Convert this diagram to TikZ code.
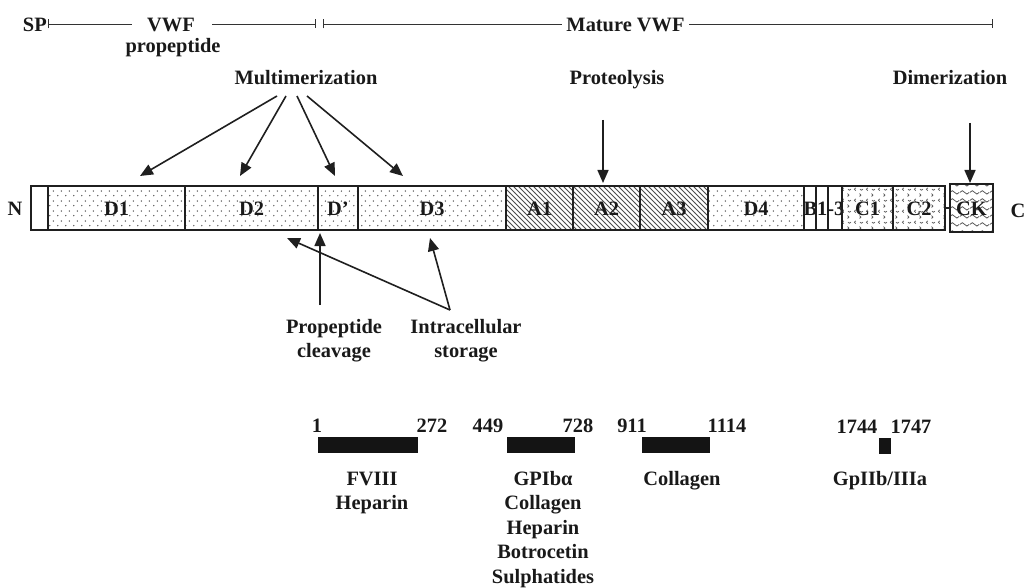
\documentclass[tikz,border=0pt]{standalone}
\usepackage{fontspec}
\setmainfont{Liberation Serif}
\usetikzlibrary{arrows.meta,patterns}

\pgfdeclarepatternformonly{sdots}{\pgfqpoint{0pt}{0pt}}{\pgfqpoint{8pt}{10pt}}{\pgfqpoint{8pt}{10pt}}{%
 \pgfpathcircle{\pgfqpoint{2pt}{2.5pt}}{0.8pt}\pgfpathcircle{\pgfqpoint{6pt}{7.5pt}}{0.8pt}\pgfusepath{fill}}
\pgfdeclarepatternformonly{hatch}{\pgfqpoint{-1pt}{-1pt}}{\pgfqpoint{6pt}{6pt}}{\pgfqpoint{5pt}{5pt}}{%
 \pgfsetlinewidth{0.9pt}\pgfpathmoveto{\pgfqpoint{0pt}{5pt}}\pgfpathlineto{\pgfqpoint{5.1pt}{-0.1pt}}\pgfusepath{stroke}}
\pgfdeclarepatternformonly{squig}{\pgfqpoint{0pt}{0pt}}{\pgfqpoint{12pt}{11pt}}{\pgfqpoint{12pt}{11pt}}{%
 \pgfsetlinewidth{0.8pt}%
 \pgfpathmoveto{\pgfqpoint{4pt}{4.5pt}}\pgfpathcurveto{\pgfqpoint{2pt}{4pt}}{\pgfqpoint{2pt}{2pt}}{\pgfqpoint{4pt}{1.5pt}}%
 \pgfpathmoveto{\pgfqpoint{8pt}{10pt}}\pgfpathcurveto{\pgfqpoint{10pt}{9.5pt}}{\pgfqpoint{10pt}{7.5pt}}{\pgfqpoint{8pt}{7pt}}%
 \pgfpathmoveto{\pgfqpoint{8.5pt}{3pt}}\pgfpathcurveto{\pgfqpoint{9.5pt}{1.5pt}}{\pgfqpoint{10.5pt}{1.5pt}}{\pgfqpoint{11.5pt}{3pt}}%
 \pgfusepath{stroke}}
\pgfdeclarepatternformonly{wave}{\pgfqpoint{0pt}{0pt}}{\pgfqpoint{10pt}{8pt}}{\pgfqpoint{10pt}{8pt}}{%
 \pgfsetlinewidth{0.8pt}%
 \pgfpathmoveto{\pgfqpoint{0pt}{4pt}}\pgfpathcurveto{\pgfqpoint{1.7pt}{6.5pt}}{\pgfqpoint{3.3pt}{6.5pt}}{\pgfqpoint{5pt}{4pt}}%
 \pgfpathcurveto{\pgfqpoint{6.7pt}{1.5pt}}{\pgfqpoint{8.3pt}{1.5pt}}{\pgfqpoint{10pt}{4pt}}\pgfusepath{stroke}}

\tikzset{
 every node/.style={font=\fontsize{20.4}{24.5}\selectfont\bfseries, text=black!90},
 lbl/.style={anchor=base, inner sep=0pt},
 dom/.style={draw=black!88, line width=1.5pt, inner sep=0pt, outer sep=0pt,
   minimum height=44pt, text height=14pt, text depth=0pt},
 dotted dom/.style={dom, pattern=sdots, pattern color=black!70},
 hatched dom/.style={dom, pattern=hatch, pattern color=black!70},
 squig dom/.style={dom, pattern=squig, pattern color=black!65},
 arr/.style={draw=black!88, line width=1.6pt, -{Triangle[length=13pt,width=11pt]}},
 tickline/.style={draw=black!80, line width=0.9pt},
 bindbar/.style={fill=black!92, inner sep=0pt, outer sep=0pt, minimum height=16pt},
}

\begin{document}
\begin{tikzpicture}[x=1pt,y=-1pt]
\useasboundingbox (0,0) rectangle (1027,588);

% header line
\node[lbl, anchor=base east] (sp) at (47,31.5) {SP};
\node[lbl] (vwf) at (171,31.5) {VWF};
\node[lbl] (prop) at (173,53) {propeptide};
\node[lbl] (mat) at (625.5,31.5) {Mature VWF};
\coordinate (h1) at (48,24); \coordinate (h2) at (132,24);
\coordinate (h3) at (212,24); \coordinate (h4) at (316,24);
\coordinate (h5) at (323,24); \coordinate (h6) at (562,24);
\coordinate (h7) at (689,24); \coordinate (h8) at (993,24);
\draw[tickline, {Bar[width=9pt]}-] (h1) -- (h2);
\draw[tickline, -{Bar[width=9pt]}] (h3) -- (h4);
\draw[tickline, {Bar[width=9pt]}-] (h5) -- (h6);
\draw[tickline, -{Bar[width=9pt]}] (h7) -- (h8);

% process labels
\node[lbl] (multi) at (306,85) {Multimerization};
\node[lbl] (proteo) at (617,85) {Proteolysis};
\node[lbl] (dimer) at (950,85) {Dimerization};

% domain bar
\node[dom, minimum width=17pt] (d0) at (39.5,208) {};
\node[dotted dom, minimum width=137pt] (d1) at (116.5,208) {D1};
\node[dotted dom, minimum width=133pt] (d2) at (251.5,208) {D2};
\node[dotted dom, minimum width=40pt] (dp) at (338,208) {D'};
\node[dotted dom, minimum width=148pt] (d3) at (432,208) {D3};
\node[hatched dom, minimum width=67pt] (a1) at (539.5,208) {A1};
\node[hatched dom, minimum width=67pt] (a2) at (606.5,208) {A2};
\node[hatched dom, minimum width=68pt] (a3) at (674,208) {A3};
\node[dotted dom, minimum width=96pt] (d4) at (756,208) {D4};
\node[dom, minimum width=12pt] (b1) at (810,208) {};
\node[dom, minimum width=12pt] (b2) at (822,208) {};
\node[dom, minimum width=14pt] (b3) at (835,208) {};
\node[lbl] (blab) at (824,215) {B1-3};
\node[squig dom, minimum width=51pt] (c1) at (867.5,208) {C1};
\node[squig dom, minimum width=52pt] (c2) at (919,208) {C2};
\node[dom, minimum width=43pt, minimum height=48pt, pattern=wave, pattern color=black!70] (ck) at (971.5,208) {CK};
\draw[line width=1.5pt, black!88] (c2.east) -- (ck.west);
\node[lbl] (nlab) at (15,215) {N};
\node[lbl] (clab) at (1018,217) {C};

% multimerization arrows
\coordinate (m1s) at (277,96); \coordinate (m1e) at (140,176);
\coordinate (m2s) at (286,96); \coordinate (m2e) at (240,176);
\coordinate (m3s) at (297,96); \coordinate (m3e) at (335,176);
\coordinate (m4s) at (307,96); \coordinate (m4e) at (403,176);
\draw[arr] (m1s) -- (m1e);
\draw[arr] (m2s) -- (m2e);
\draw[arr] (m3s) -- (m3e);
\draw[arr] (m4s) -- (m4e);
\coordinate (ps) at (603,120); \coordinate (pe) at (603,183);
\draw[arr] (ps) -- (pe);
\coordinate (ds) at (970,123); \coordinate (de) at (970,183);
\draw[arr] (ds) -- (de);

% lower arrows
\coordinate (pc0) at (320,305); \coordinate (pc1) at (320,233);
\draw[arr] (pc0) -- (pc1);
\coordinate (is0) at (450,310); \coordinate (is1) at (287,238); \coordinate (is2) at (430,238);
\draw[arr] (is0) -- (is1);
\draw[arr] (is0) -- (is2);
\node[lbl] (pca) at (334,333) {Propeptide};
\node[lbl] (pcb) at (334,357) {cleavage};
\node[lbl] (isa) at (466,333) {Intracellular};
\node[lbl] (isb) at (466,357) {storage};

% binding regions
\node[bindbar, minimum width=100pt] (bb1) at (368,445) {};
\node[bindbar, minimum width=68pt] (bb2) at (541,445) {};
\node[bindbar, minimum width=68pt] (bb3) at (676,445) {};
\node[bindbar, minimum width=12pt] (bb4) at (885,446) {};
\node[lbl] (n1) at (317,432) {1};
\node[lbl] (n272) at (432,432) {272};
\node[lbl] (n449) at (488,432) {449};
\node[lbl] (n728) at (578,432) {728};
\node[lbl] (n911) at (632,432) {911};
\node[lbl] (n1114) at (727,432) {1114};
\node[lbl] (n1744) at (857,433) {1744};
\node[lbl] (n1747) at (911,433) {1747};

\node[lbl] (l1a) at (372,485) {FVIII};
\node[lbl] (l1b) at (372,509.5) {Heparin};
\node[lbl] (l2a) at (543,485) {GPIbα};
\node[lbl] (l2b) at (543,509.5) {Collagen};
\node[lbl] (l2c) at (543,534) {Heparin};
\node[lbl] (l2d) at (543,558.5) {Botrocetin};
\node[lbl] (l2e) at (543,583) {Sulphatides};
\node[lbl] (l3a) at (682,485) {Collagen};
\node[lbl] (l4a) at (880,485) {GpIIb/IIIa};
\end{tikzpicture}
\end{document}
